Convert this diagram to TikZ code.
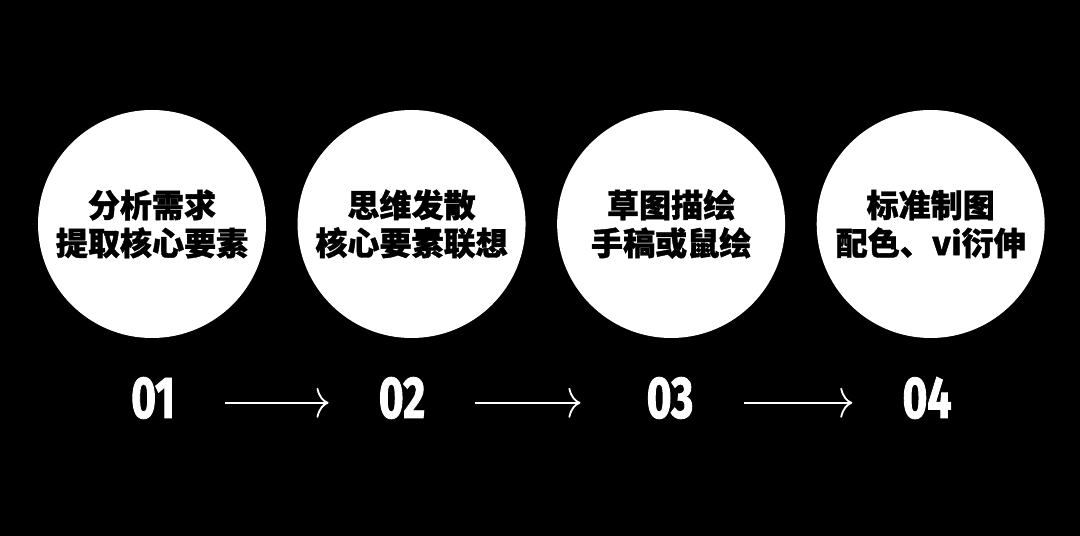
\documentclass[tikz,border=0pt]{standalone}
\usepackage{fontspec}
\usepackage{tikz}
\usetikzlibrary{arrows.meta, positioning, calc}
\newfontfamily\cjk[FakeBold=1.2]{Noto Sans CJK SC}
\newfontfamily\numfont[FakeStretch=0.72, FakeBold=1.5]{Fira Sans}

\begin{document}
\begin{tikzpicture}[
    node distance=0.775cm,
    stage/.style={circle, fill=white, minimum size=5.7cm, inner sep=0pt, align=center,
        font=\cjk\bfseries\fontsize{22.8pt}{27pt}\selectfont},
    num/.style={text=white, inner sep=0pt, font=\numfont\bfseries\fontsize{42pt}{42pt}\selectfont},
    arrow/.style={-{Computer Modern Rightarrow[length=3mm, width=7.5mm]}, white!80, line width=1.3pt,
        shorten <=1.25cm, shorten >=1.25cm}
]

\fill[black] (0,0) rectangle (27,13.4);
\useasboundingbox (0,0) rectangle (27,13.4);

\node[stage] (analyse) at (3.8,7.8) {分析需求\\提取核心要素};
\node[stage, right=of analyse] (diverge) {思维发散\\核心要素联想};
\node[stage, right=of diverge] (sketch) {草图描绘\\手稿或鼠绘};
\node[stage, right=of sketch] (drafting) {标准制图\\配色、vi衍伸};

\node[num] (step1) at (3.825,3.45) {01};
\node[num] (step2) at (10.05,3.45) {02};
\node[num] (step3) at (16.75,3.45) {03};
\node[num] (step4) at (23.175,3.45) {04};

\draw[arrow] ($(step1.east)+(0,-0.12)$) -- ($(step2.west)+(0,-0.12)$);
\draw[arrow, shorten >=1.65cm] ($(step2.east)+(0,-0.12)$) -- ($(step3.west)+(0,-0.12)$);
\draw[arrow] ($(step3.east)+(0,-0.12)$) -- ($(step4.west)+(0,-0.12)$);

\end{tikzpicture}
\end{document}
